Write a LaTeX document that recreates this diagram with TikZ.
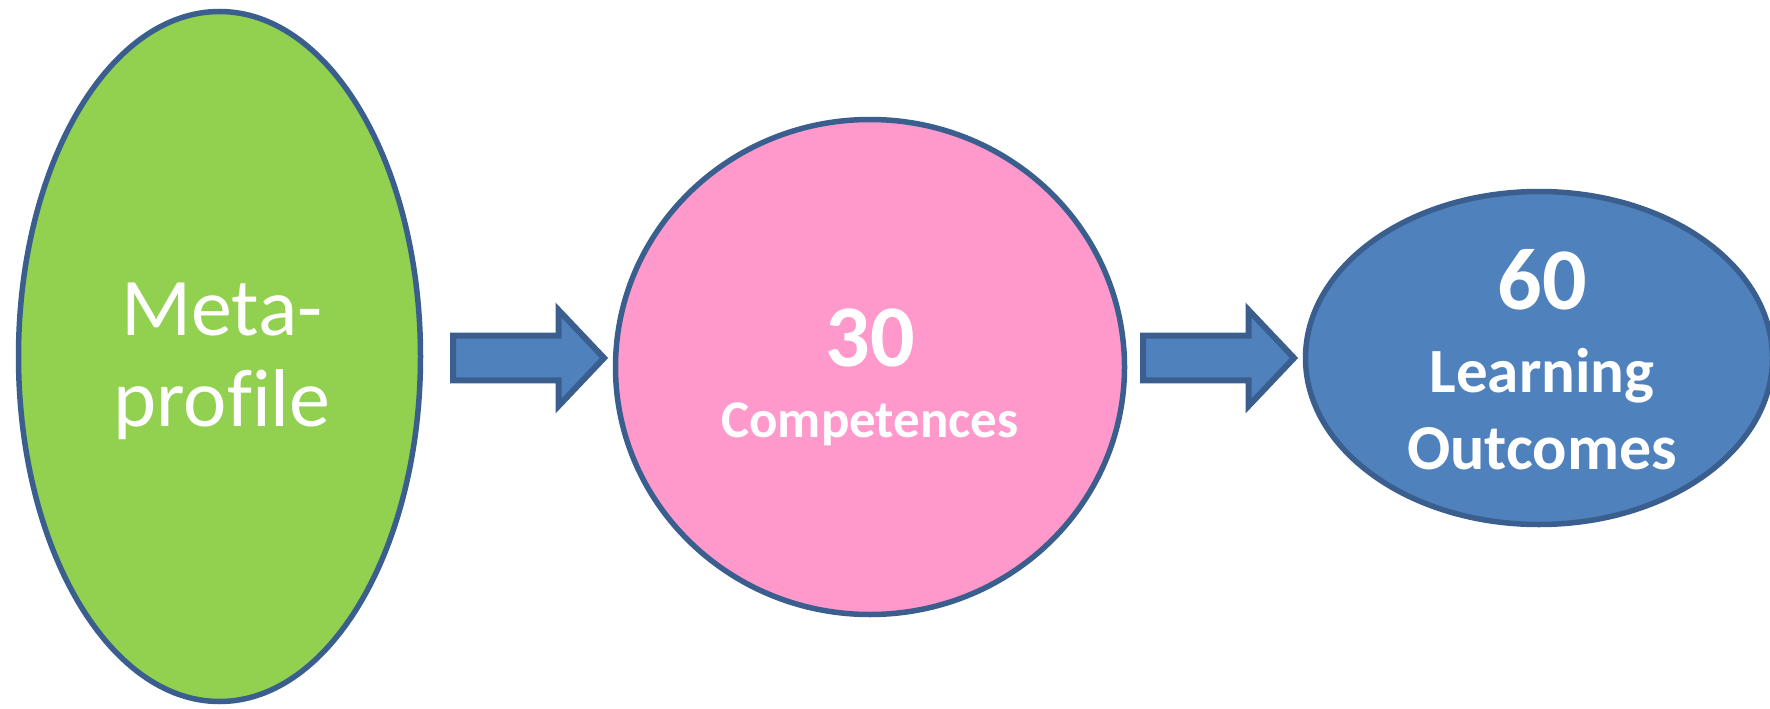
\documentclass[tikz,border=0pt]{standalone}
\usepackage{fontspec}
\setmainfont{Carlito}[Ligatures={NoCommon}]
\usetikzlibrary{shapes.geometric}
\definecolor{bordc}{HTML}{3A5F8E}
\definecolor{greenf}{HTML}{92D050}
\definecolor{pinkf}{HTML}{FF99CC}
\definecolor{bluef}{HTML}{4F81BD}
\tikzset{
  shapebox/.style={ellipse, draw=bordc, line width=5.5pt, inner sep=0pt},
  blockarrow/.style={draw=bordc, fill=bluef, line width=6pt, line join=miter},
  txt/.style={text=white, anchor=base, inner sep=0pt},
}
\begin{document}
\begin{tikzpicture}[x=1pt,y=-1pt]
\useasboundingbox (0,0) rectangle (1770,709);
% shapes
\node[shapebox, fill=greenf, minimum width=402pt, minimum height=690pt] (meta) at (219.5,356.5) {};
\node[shapebox, fill=pinkf, minimum width=509pt, minimum height=495pt] (comp) at (870,367) {};
\node[shapebox, fill=bluef, minimum width=467pt, minimum height=333pt] (lo) at (1539,358) {};
% block arrows
\coordinate (a1) at (453,358);
\coordinate (a2) at (1143,358);
\draw[blockarrow] (a1) ++(0,-22.3) -- ++(105.5,0) -- ++(0,-25.7) -- ++(45.5,48) -- ++(-45.5,48) -- ++(0,-25.7) -- ++(-105.5,0) -- cycle;
\draw[blockarrow] (a2) ++(0,-22.3) -- ++(105.5,0) -- ++(0,-25.7) -- ++(45.5,48) -- ++(-45.5,48) -- ++(0,-25.7) -- ++(-105.5,0) -- cycle;
% texts
\node[txt, font=\fontsize{82pt}{90pt}\selectfont] (meta1) at (222,335) {Meta-};
\node[txt, font=\fontsize{82pt}{90pt}\selectfont] (meta2) at (222,426.7) {profile};
\node[txt, font=\fontsize{88pt}{95pt}\selectfont\bfseries] (comp1) at (870,366) {30};
\node[txt, font=\fontsize{53pt}{60pt}\selectfont\bfseries] (comp2) at (870,437.5) {Competences};
\node[txt, font=\fontsize{88pt}{95pt}\selectfont\bfseries] (lo1) at (1542,309.5) {60};
\node[txt, font=\fontsize{63pt}{70pt}\selectfont\bfseries] (lo2) at (1542,392) {Learning};
\node[txt, font=\fontsize{64pt}{70pt}\selectfont\bfseries] (lo3) at (1542,469) {Outcomes};
\end{tikzpicture}
\end{document}
